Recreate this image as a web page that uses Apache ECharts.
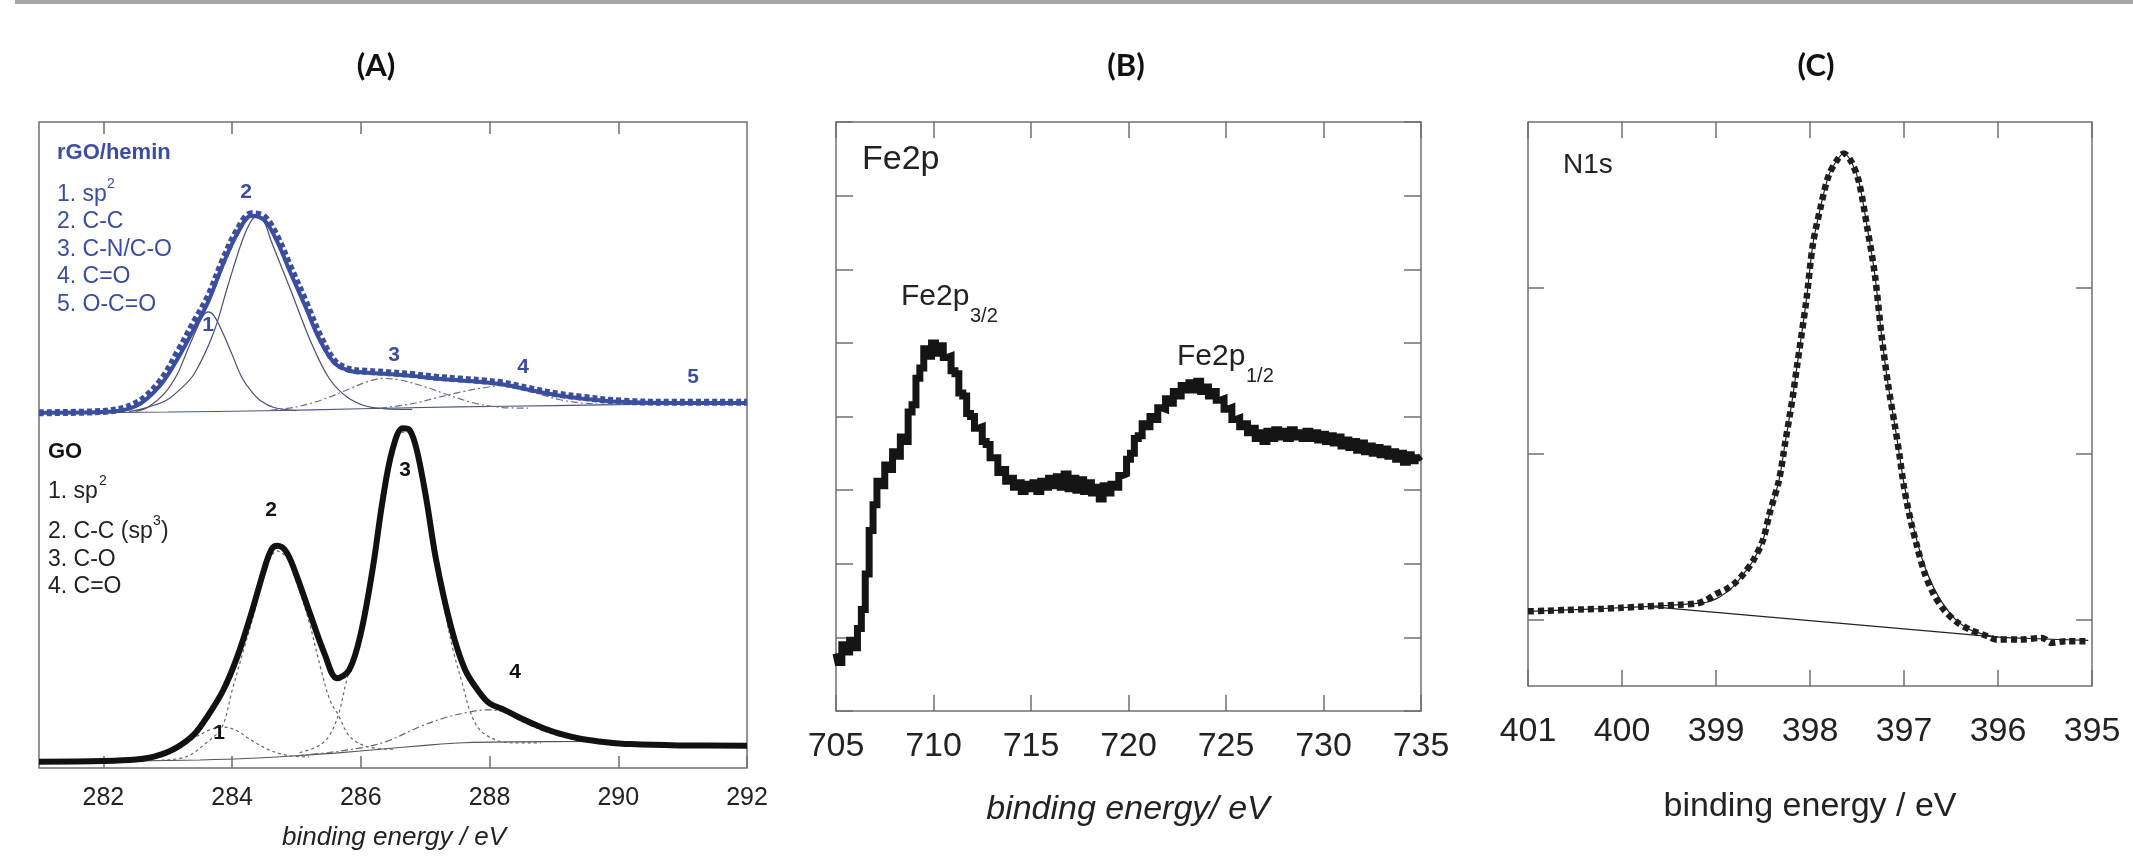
<!DOCTYPE html>
<html><head><meta charset="utf-8">
<script src="https://cdn.jsdelivr.net/npm/echarts@6/dist/echarts.min.js"></script>
<style>html,body{margin:0;padding:0;background:#fff}#c{width:2133px;height:857px}</style>
</head><body><div id="c"></div>
<script>
// ---------- Panel A : C1s (GO bottom, rGO/hemin top, offset) ----------
const ticksA = [282, 284, 286, 288, 290, 292];
const ticksAtop = [282, 284, 286, 288, 290];
const goTotal = [[281.0,0.98],[282.0,1.08],[282.5,1.3],[282.8,1.8],[283.11,3.0],[283.41,5.2],[283.63,8.2],[283.86,12.0],[284.08,17.2],[284.31,24.3],[284.5,30.8],[284.61,33.8],[284.7,34.4],[284.84,33.5],[284.99,30.1],[285.21,23.9],[285.44,17.6],[285.63,13.9],[285.82,15.2],[286.0,20.85],[286.19,31.2],[286.34,41.5],[286.49,49.2],[286.65,52.6],[286.76,52.3],[286.87,49.2],[287.02,41.5],[287.17,32.2],[287.4,21.9],[287.62,15.2],[287.85,11.6],[288.0,10.0],[288.23,9.0],[288.53,7.5],[288.83,6.2],[289.13,5.2],[289.43,4.5],[289.81,4.0],[290.19,3.7],[290.94,3.5],[292.0,3.45]];
const goC1 = [[282.6,1.2],[283.0,2.3],[283.35,4.3],[283.65,5.9],[283.85,6.35],[284.05,5.9],[284.3,4.3],[284.6,2.7],[284.9,1.9],[285.2,1.7]];
const goC2 = [[282.9,1.2],[283.29,1.75],[283.6,3.9],[283.84,6.3],[284.0,12.0],[284.2,19.0],[284.33,23.5],[284.5,30.0],[284.7,33.6],[284.85,32.5],[285.0,28.8],[285.2,22.5],[285.37,15.7],[285.52,10.5],[285.65,8.2],[285.83,4.85],[286.1,3.3],[286.5,2.9]];
const goC3 = [[285.05,2.4],[285.32,3.3],[285.5,4.85],[285.65,8.2],[285.78,13.6],[285.96,20.0],[286.19,30.5],[286.34,40.8],[286.49,48.6],[286.65,52.0],[286.76,51.8],[286.87,48.6],[287.02,40.8],[287.17,31.5],[287.29,25.0],[287.44,18.0],[287.59,12.6],[287.7,8.7],[287.85,5.9],[288.11,4.3],[288.37,3.9],[288.8,3.9]];
const goC4 = [[285.0,1.9],[285.5,2.4],[286.1,3.3],[286.45,4.3],[286.87,6.2],[287.28,7.7],[287.7,8.7],[287.96,9.0],[288.2,8.7],[288.5,7.2],[288.8,5.9],[289.1,4.9],[289.4,4.3],[289.7,4.1]];
const goBase = [[281.0,1.0],[282.5,1.1],[283.5,1.25],[284.3,1.5],[285.0,1.9],[285.6,2.3],[286.3,2.9],[287.0,3.5],[287.6,3.9],[288.4,4.05],[289.6,4.1]];

const rgoFit = [[281.0,55.0],[282.0,55.1],[282.5,56.0],[282.88,59.2],[283.18,63.8],[283.41,68.0],[283.63,72.2],[283.86,78.0],[284.08,82.7],[284.3,85.5],[284.5,84.8],[284.69,81.7],[284.91,76.6],[285.14,71.4],[285.36,66.3],[285.59,62.7],[285.82,61.5],[286.1,61.2],[286.42,61.0],[286.8,60.7],[287.17,60.3],[287.55,60.0],[287.93,59.7],[288.2,59.4],[288.45,58.9],[288.68,58.4],[289.05,57.7],[289.43,57.2],[290.03,56.7],[290.94,56.5],[292.0,56.5]];
const rgoData = [[281.0,55.0],[282.0,55.2],[282.5,56.4],[282.88,59.8],[283.18,64.8],[283.41,69.0],[283.63,73.0],[283.86,78.6],[284.08,83.2],[284.3,85.8],[284.5,85.3],[284.69,82.4],[284.91,77.4],[285.14,72.2],[285.36,67.0],[285.59,63.0],[285.82,61.7],[286.1,61.4],[286.42,61.2],[286.8,60.9],[287.17,60.5],[287.55,60.2],[287.93,59.9],[288.2,59.6],[288.45,59.1],[288.68,58.6],[289.05,57.9],[289.43,57.4],[290.03,56.8],[290.94,56.6],[292.0,56.6]];
const rgoC1 = [[282.5,55.2],[282.7,55.9],[282.95,58.0],[283.15,61.0],[283.3,64.5],[283.45,68.0],[283.55,70.0],[283.63,70.6],[283.72,70.0],[283.85,67.5],[284.0,64.0],[284.15,60.5],[284.3,58.3],[284.45,56.8],[284.65,55.8],[285.0,55.3]];
const rgoC2 = [[282.4,55.2],[282.6,55.6],[282.96,56.8],[283.18,58.5],[283.41,61.0],[283.71,67.3],[283.93,74.5],[284.16,81.7],[284.31,84.9],[284.4,85.3],[284.5,84.5],[284.61,81.5],[284.91,74.0],[285.21,66.3],[285.51,60.3],[285.82,57.2],[286.19,55.8],[286.8,55.5]];
const rgoC3 = [[284.6,55.4],[285.0,55.9],[285.4,57.0],[285.8,58.6],[286.1,59.8],[286.35,60.3],[286.6,60.1],[287.0,59.0],[287.4,57.6],[287.8,56.4],[288.2,55.8],[288.6,55.7]];
const rgoC4 = [[286.3,55.7],[286.8,56.4],[287.17,57.3],[287.6,58.3],[287.93,58.9],[288.2,59.2],[288.5,58.7],[288.8,57.8],[289.1,57.0],[289.43,56.5],[289.9,56.3],[290.3,56.3]];
const rgoBase = [[281.0,55.0],[283.0,55.1],[284.5,55.3],[286.0,55.6],[287.5,55.9],[289.0,56.1],[290.5,56.3],[292.0,56.4]];

// ---------- Panel B : Fe2p (noisy raw spectrum, 0.2 eV steps) ----------
const fe2pEnergy = [705.0,705.2,705.4,705.6,705.8,706.0,706.2,706.4,706.6,706.8,707.0,707.2,707.4,707.6,707.8,708.0,708.2,708.4,708.6,708.8,709.0,709.2,709.4,709.6,709.8,710.0,710.2,710.4,710.6,710.8,711.0,711.2,711.4,711.6,711.8,712.0,712.2,712.4,712.6,712.8,713.0,713.2,713.4,713.6,713.8,714.0,714.2,714.4,714.6,714.8,715.0,715.2,715.4,715.6,715.8,716.0,716.2,716.4,716.6,716.8,717.0,717.2,717.4,717.6,717.8,718.0,718.2,718.4,718.6,718.8,719.0,719.2,719.4,719.6,719.8,720.0,720.2,720.4,720.6,720.8,721.0,721.2,721.4,721.6,721.8,722.0,722.2,722.4,722.6,722.8,723.0,723.2,723.4,723.6,723.8,724.0,724.2,724.4,724.6,724.8,725.0,725.2,725.4,725.6,725.8,726.0,726.2,726.4,726.6,726.8,727.0,727.2,727.4,727.6,727.8,728.0,728.2,728.4,728.6,728.8,729.0,729.2,729.4,729.6,729.8,730.0,730.2,730.4,730.6,730.8,731.0,731.2,731.4,731.6,731.8,732.0,732.2,732.4,732.6,732.8,733.0,733.2,733.4,733.6,733.8,734.0,734.2,734.4,734.6,734.8,735.0];
const fe2pCounts = [0.78,0.66,0.90,0.80,0.96,0.86,1.12,1.38,1.86,2.45,2.80,3.12,3.06,3.34,3.28,3.52,3.46,3.72,3.66,4.06,4.16,4.52,4.66,4.92,4.82,5.00,4.86,4.96,4.80,4.82,4.62,4.58,4.32,4.28,4.04,4.00,3.84,3.86,3.66,3.62,3.44,3.44,3.24,3.28,3.12,3.16,3.04,3.10,2.98,3.08,3.02,3.10,2.98,3.12,3.04,3.16,3.06,3.18,3.04,3.22,3.02,3.16,3.00,3.14,2.98,3.10,2.96,3.04,2.88,3.06,2.96,3.08,3.04,3.20,3.22,3.42,3.50,3.70,3.74,3.90,3.86,4.00,3.96,4.12,4.10,4.24,4.18,4.34,4.28,4.42,4.36,4.46,4.36,4.48,4.34,4.40,4.28,4.34,4.22,4.24,4.10,4.12,3.96,3.98,3.86,3.90,3.78,3.84,3.70,3.78,3.66,3.80,3.70,3.82,3.72,3.80,3.70,3.82,3.72,3.78,3.70,3.80,3.70,3.78,3.68,3.76,3.66,3.74,3.64,3.72,3.60,3.68,3.58,3.66,3.54,3.64,3.52,3.60,3.50,3.58,3.48,3.56,3.46,3.52,3.42,3.50,3.38,3.48,3.40,3.44,3.46];

// ---------- Panel C : N1s ----------
const n1sData = [[401.0,0.050],[400.8,0.054],[400.6,0.058],[400.4,0.062],[400.2,0.066],[400.0,0.072],[399.8,0.078],[399.6,0.084],[399.4,0.090],[399.2,0.098],[399.1,0.12],[399.0,0.155],[398.9,0.18],[398.8,0.22],[398.7,0.28],[398.6,0.36],[398.5,0.48],[398.43,0.64],[398.33,0.84],[398.26,1.08],[398.19,1.32],[398.14,1.52],[398.04,1.92],[397.97,2.26],[397.89,2.48],[397.80,2.68],[397.70,2.78],[397.64,2.81],[397.56,2.76],[397.48,2.64],[397.39,2.36],[397.31,2.08],[397.24,1.72],[397.17,1.42],[397.10,1.18],[397.05,1.00],[397.00,0.80],[396.93,0.60],[396.86,0.44],[396.78,0.28],[396.69,0.16],[396.59,0.07],[396.45,-0.01],[396.30,-0.06],[396.11,-0.10],[396.02,-0.12],[395.77,-0.12],[395.53,-0.11],[395.43,-0.14],[395.28,-0.13],[395.04,-0.13]];
const n1sFit = [[401.0,0.050],[400.5,0.060],[400.0,0.072],[399.5,0.086],[399.2,0.098],[399.1,0.105],[399.0,0.125],[398.9,0.16],[398.8,0.21],[398.7,0.28],[398.6,0.36],[398.5,0.48],[398.43,0.64],[398.33,0.84],[398.26,1.08],[398.19,1.32],[398.14,1.52],[398.04,1.92],[397.97,2.26],[397.89,2.48],[397.80,2.68],[397.70,2.78],[397.64,2.81],[397.56,2.76],[397.48,2.64],[397.39,2.36],[397.31,2.08],[397.24,1.72],[397.17,1.42],[397.10,1.18],[397.05,1.00],[397.00,0.82],[396.93,0.63],[396.86,0.47],[396.78,0.32],[396.69,0.20],[396.59,0.10],[396.45,0.0],[396.30,-0.06],[396.11,-0.095],[396.0,-0.105],[395.6,-0.115],[395.04,-0.125]];
const n1sBase = [[399.7,0.078],[396.0,-0.105]];

const FONT = '"Liberation Sans", Arial, sans-serif';
const BLUE = '#3b4d9e';
const TXT = '#222';
const tickLine = {color: '#707070', width: 1.5};
const fe2p = fe2pEnergy.map((e, i) => [e, fe2pCounts[i]]);

function xAx(grid, min, max, opt) {
  return Object.assign({
    gridIndex: grid, type: 'value', min: min, max: max,
    axisLine: {show: false, onZero: false}, splitLine: {show: false}
  }, opt);
}
function yAx(grid, min, max, opt) {
  return Object.assign({
    gridIndex: grid, type: 'value', min: min, max: max,
    axisLine: {show: false, onZero: false}, splitLine: {show: false}, axisLabel: {show: false}
  }, opt);
}
function line(data, xi, yi, ls, extra) {
  return Object.assign({
    type: 'line', data: data, xAxisIndex: xi, yAxisIndex: yi,
    symbol: 'none', showSymbol: false, silent: true, animation: false,
    smooth: 0.35, lineStyle: ls, z: 2
  }, extra || {});
}
function T(text, x, y, font, color, align) {
  return {type: 'text', x: x, y: y, silent: true, z: 100,
    style: {text: text, font: font, fill: color || TXT, align: align || 'left', verticalAlign: 'middle'}};
}
const f = (s, w, st) => (st || '') + ' ' + (w || '') + ' ' + s + 'px ' + FONT;

const option = {
  backgroundColor: '#fff',
  animation: false,
  grid: [
    {left: 39, top: 122, width: 708, height: 646, show: true, borderColor: '#707070', borderWidth: 1.5},
    {left: 836, top: 122, width: 585, height: 589, show: true, borderColor: '#707070', borderWidth: 1.5},
    {left: 1528, top: 122, width: 564, height: 564, show: true, borderColor: '#707070', borderWidth: 1.5}
  ],
  xAxis: [
    xAx(0, 281, 292, {position: 'bottom',
      axisTick: {show: true, inside: true, length: 12, customValues: ticksA, lineStyle: tickLine},
      axisLabel: {show: true, customValues: ticksA, fontSize: 25, color: TXT, margin: 18, fontFamily: FONT}}),
    xAx(0, 281, 292, {position: 'top',
      axisTick: {show: true, inside: true, length: 12, customValues: ticksAtop, lineStyle: tickLine},
      axisLabel: {show: false}}),
    xAx(1, 705, 735, {position: 'bottom', interval: 5,
      axisTick: {show: true, inside: true, length: 16, lineStyle: tickLine},
      axisLabel: {show: true, fontSize: 34, color: TXT, margin: 19, fontFamily: FONT}}),
    xAx(1, 705, 735, {position: 'top', interval: 5,
      axisTick: {show: true, inside: true, length: 16, lineStyle: tickLine},
      axisLabel: {show: false}}),
    xAx(2, 395, 401, {position: 'bottom', interval: 1, inverse: true,
      axisTick: {show: true, inside: true, length: 16, lineStyle: tickLine},
      axisLabel: {show: true, fontSize: 34, color: TXT, margin: 29, fontFamily: FONT}}),
    xAx(2, 395, 401, {position: 'top', interval: 1, inverse: true,
      axisTick: {show: true, inside: true, length: 16, lineStyle: tickLine},
      axisLabel: {show: false}})
  ],
  yAxis: [
    yAx(0, 0, 100, {show: false}),
    yAx(1, 0, 8, {position: 'left', interval: 1, axisTick: {show: true, inside: true, length: 17, lineStyle: tickLine}}),
    yAx(1, 0, 8, {position: 'right', interval: 1, axisTick: {show: true, inside: true, length: 17, lineStyle: tickLine}}),
    yAx(2, -0.4, 3, {position: 'left', axisTick: {show: true, inside: true, length: 16, customValues: [0, 1, 2], lineStyle: tickLine}}),
    yAx(2, -0.4, 3, {position: 'right', axisTick: {show: true, inside: true, length: 16, customValues: [0, 1, 2], lineStyle: tickLine}})
  ],
  series: [
    // Panel A - GO
    line(goBase, 0, 0, {color: '#555', width: 1.1}),
    line(goC1, 0, 0, {color: '#666', width: 1.2, type: [3, 3]}),
    line(goC2, 0, 0, {color: '#666', width: 1.2, type: [3, 3]}),
    line(goC3, 0, 0, {color: '#666', width: 1.2, type: [3, 3]}),
    line(goC4, 0, 0, {color: '#666', width: 1.2, type: [7, 3, 2, 3]}),
    line(goTotal, 0, 0, {color: '#111', width: 6}, {z: 5}),
    // Panel A - rGO/hemin
    line(rgoBase, 0, 0, {color: '#4b5585', width: 1.1}),
    line(rgoC1, 0, 0, {color: '#4a4f6e', width: 1.2}),
    line(rgoC2, 0, 0, {color: '#4a4f6e', width: 1.2}),
    line(rgoC3, 0, 0, {color: '#6a7090', width: 1.2, type: [7, 3, 2, 3]}),
    line(rgoC4, 0, 0, {color: '#6a7090', width: 1.2, type: [7, 3, 2, 3]}),
    line(rgoData, 0, 0, {color: BLUE, width: 7, type: [5, 3]}, {z: 5}),
    line(rgoFit, 0, 0, {color: BLUE, width: 4}, {z: 6}),
    // Panel B
    line(fe2p, 2, 1, {color: '#151515', width: 7, join: 'miter'}, {smooth: false, step: 'middle', z: 5}),
    // Panel C
    line(n1sBase, 4, 3, {color: '#222', width: 1.2}, {smooth: false}),
    line(n1sFit, 4, 3, {color: '#222', width: 1.2}, {smooth: 0.3}),
    line(n1sData, 4, 3, {color: '#1e1e1e', width: 6.5, type: [6, 4]}, {smooth: 0.3, z: 5})
  ],
  graphic: [
    {type: 'rect', shape: {x: 15, y: 0, width: 2118, height: 4}, style: {fill: '#a7a7aa'}, silent: true},
    T('(A)', 376, 66, 'bold 31px Lato, "Open Sans", sans-serif', '#111', 'center'),
    T('(B)', 1126, 66, 'bold 31px Lato, "Open Sans", sans-serif', '#111', 'center'),
    T('(C)', 1816, 66, 'bold 31px Lato, "Open Sans", sans-serif', '#111', 'center'),
    T('binding energy / eV', 394, 838, f(26, '', 'italic'), TXT, 'center'),
    T('binding energy/ eV', 1128, 810, f(34, '', 'italic'), TXT, 'center'),
    T('binding energy / eV', 1810, 807, f(34), TXT, 'center'),
    // rGO/hemin legend
    T('rGO/hemin', 57, 153, f(22, 'bold'), BLUE),
    T('1. sp', 57, 195, f(23), BLUE), T('2', 107, 184, f(14), BLUE),
    T('2. C-C', 57, 222, f(23), BLUE),
    T('3. C-N/C-O', 57, 250, f(23), BLUE),
    T('4. C=O', 57, 277, f(23), BLUE),
    T('5. O-C=O', 57, 305, f(23), BLUE),
    T('2', 246, 192, f(21, 'bold'), BLUE, 'center'),
    T('1', 208, 325, f(21, 'bold'), BLUE, 'center'),
    T('3', 394, 355, f(21, 'bold'), BLUE, 'center'),
    T('4', 523, 367, f(21, 'bold'), BLUE, 'center'),
    T('5', 693, 377, f(21, 'bold'), BLUE, 'center'),
    // GO legend
    T('GO', 48, 452, f(22, 'bold'), '#111'),
    T('1. sp', 48, 492, f(23)), T('2', 99, 481, f(14)),
    T('2. C-C (sp', 48, 532, f(23)), T('3', 153, 521, f(14)), T(')', 161, 532, f(23)),
    T('3. C-O', 48, 560, f(23)),
    T('4. C=O', 48, 587, f(23)),
    T('2', 271, 510, f(21, 'bold'), '#111', 'center'),
    T('3', 405, 470, f(21, 'bold'), '#111', 'center'),
    T('4', 515, 672, f(21, 'bold'), '#111', 'center'),
    T('1', 219, 733, f(21, 'bold'), '#111', 'center'),
    // Panel B labels
    T('Fe2p', 862, 160, f(34)),
    T('Fe2p', 901, 297, f(30)), T('3/2', 970, 316, f(20)),
    T('Fe2p', 1177, 357, f(30)), T('1/2', 1246, 376, f(20)),
    // Panel C label
    T('N1s', 1563, 165, f(28))
  ]
};
const chart = echarts.init(document.getElementById('c'), null, {renderer: 'canvas', width: 2133, height: 857});
chart.setOption(option);
</script>
</body></html>
